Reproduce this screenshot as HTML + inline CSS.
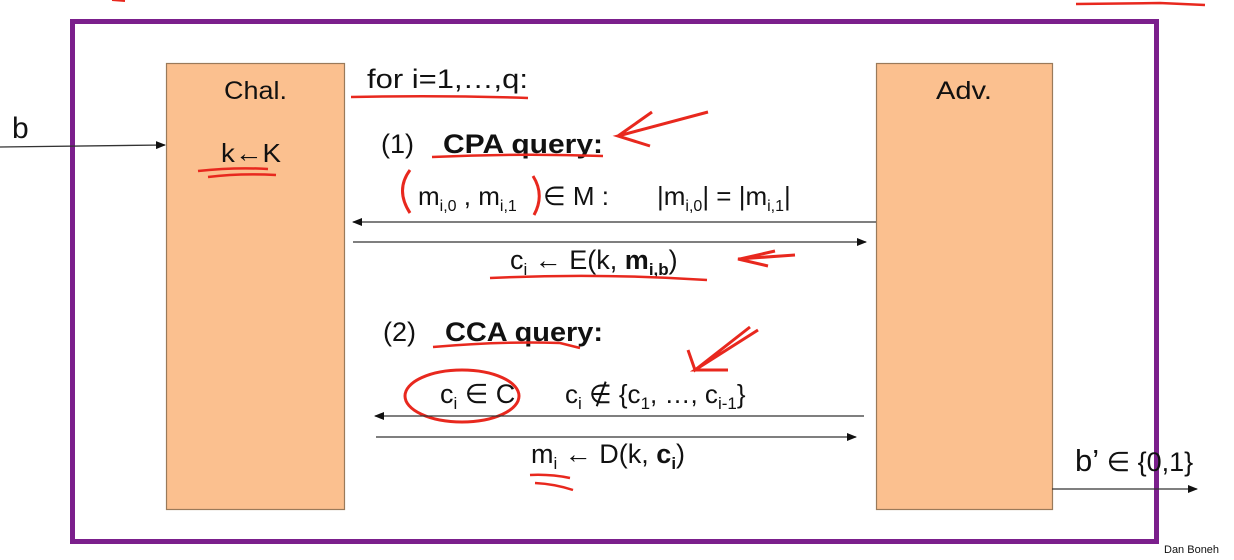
<!DOCTYPE html>
<html><head><meta charset="utf-8"><style>
html,body{margin:0;padding:0;background:#fff;width:1234px;height:560px;overflow:hidden}
svg{display:block}
text{font-family:"Liberation Sans",sans-serif;fill:#111}
</style></head><body>
<svg width="1234" height="560" viewBox="0 0 1234 560" xmlns="http://www.w3.org/2000/svg">
<defs>
<marker id="ah" markerWidth="10" markerHeight="8" refX="9" refY="4" orient="auto" markerUnits="userSpaceOnUse"><path d="M0,0 L10,4 L0,8 Z" fill="#111"/></marker>
</defs>
<rect x="0" y="0" width="1234" height="560" fill="#fff"/>
<path d="M1076,4 L1160,3 L1205,5" stroke="#e8281e" stroke-width="2.5" fill="none"/>
<path d="M112,0 L125,1" stroke="#e8281e" stroke-width="2" fill="none"/>
<rect x="72.5" y="21.5" width="1084" height="520" fill="none" stroke="#7b1f8c" stroke-width="5"/>
<rect x="166.5" y="63.5" width="178" height="446" fill="#fbc08f" stroke="#9a7a5a" stroke-width="1.2"/>
<rect x="876.5" y="63.5" width="176" height="446" fill="#fbc08f" stroke="#9a7a5a" stroke-width="1.2"/>
<text x="224" y="99" font-size="25" textLength="63" lengthAdjust="spacingAndGlyphs">Chal.</text>
<text x="936" y="99" font-size="25" textLength="56" lengthAdjust="spacingAndGlyphs">Adv.</text>
<text x="221" y="162" font-size="26" textLength="60" lengthAdjust="spacingAndGlyphs">k←K</text>
<path d="M198,171 Q235,167 268,169 M208,177 Q240,173 276,175" stroke="#e8281e" stroke-width="2.5" fill="none"/>
<text x="12" y="138" font-size="30">b</text>
<line x1="0" y1="147" x2="165" y2="145" stroke="#333" stroke-width="1.3" marker-end="url(#ah)"/>
<text x="367" y="88" font-size="27" textLength="161" lengthAdjust="spacingAndGlyphs">for i=1,…,q:</text>
<path d="M351,97 Q440,95 528,98" stroke="#e8281e" stroke-width="2.5" fill="none"/>
<text x="381" y="153" font-size="27">(1)</text>
<text x="443" y="153" font-size="27" font-weight="bold" textLength="160" lengthAdjust="spacingAndGlyphs">CPA query:</text>
<path d="M432,157 Q520,153 603,156" stroke="#e8281e" stroke-width="2.5" fill="none"/>
<path d="M708,112 L618,136 L650,146 M652,112 L618,136" stroke="#e8281e" stroke-width="3" fill="none"/>
<path d="M410,170 Q395,190 410,213 M533,176 Q545,195 534,215" stroke="#e8281e" stroke-width="3" fill="none"/>
<text x="418" y="205" font-size="26">m<tspan font-size="16" dy="6">i,0</tspan><tspan dy="-6"> , m</tspan><tspan font-size="16" dy="6">i,1</tspan></text>
<text x="543" y="205" font-size="26">∈ M :</text>
<text x="657" y="205" font-size="26">|m<tspan font-size="16" dy="6">i,0</tspan><tspan dy="-6">| = |m</tspan><tspan font-size="16" dy="6">i,1</tspan><tspan dy="-6">|</tspan></text>
<line x1="876" y1="222" x2="353" y2="222" stroke="#333" stroke-width="1.3" marker-end="url(#ah)"/>
<line x1="353" y1="242" x2="866" y2="242" stroke="#333" stroke-width="1.3" marker-end="url(#ah)"/>
<text x="510" y="269" font-size="27">c<tspan font-size="17" dy="6">i</tspan><tspan dy="-6"> ← E(k, </tspan><tspan font-weight="bold">m</tspan><tspan font-size="17" font-weight="bold" dy="6">i,b</tspan><tspan dy="-6">)</tspan></text>
<path d="M490,278 Q600,273 707,280" stroke="#e8281e" stroke-width="2.5" fill="none"/>
<path d="M795,255 L738,259 L768,266 M740,259 L775,251" stroke="#e8281e" stroke-width="3" fill="none"/>
<text x="383" y="341" font-size="27">(2)</text>
<text x="445" y="341" font-size="27" font-weight="bold" textLength="158" lengthAdjust="spacingAndGlyphs">CCA query:</text>
<path d="M433,347 Q500,341 560,343 L580,348" stroke="#e8281e" stroke-width="2.5" fill="none"/>
<path d="M758,330 L695,370 L728,370 M750,327 L695,370 L688,350" stroke="#e8281e" stroke-width="3" fill="none"/>
<ellipse cx="462" cy="396" rx="57" ry="26" stroke="#e8281e" stroke-width="3" fill="none"/>
<text x="440" y="403" font-size="27">c<tspan font-size="17" dy="6">i</tspan><tspan dy="-6"> ∈ C</tspan></text>
<text x="565" y="403" font-size="26">c<tspan font-size="17" dy="6">i</tspan><tspan dy="-6"> ∉ {c</tspan><tspan font-size="17" dy="6">1</tspan><tspan dy="-6">, …, c</tspan><tspan font-size="17" dy="6">i-1</tspan><tspan dy="-6">}</tspan></text>
<line x1="864" y1="416" x2="375" y2="416" stroke="#333" stroke-width="1.3" marker-end="url(#ah)"/>
<line x1="376" y1="437" x2="856" y2="437" stroke="#333" stroke-width="1.3" marker-end="url(#ah)"/>
<text x="531" y="463" font-size="27">m<tspan font-size="17" dy="6">i</tspan><tspan dy="-6"> ← D(k, </tspan><tspan font-weight="bold">c</tspan><tspan font-size="17" font-weight="bold" dy="6">i</tspan><tspan dy="-6">)</tspan></text>
<path d="M530,475 Q550,474 570,478 M535,483 Q555,484 573,490" stroke="#e8281e" stroke-width="2.5" fill="none"/>
<text x="1075" y="471" font-size="31">b’ <tspan font-size="27">∈ {0,1}</tspan></text>
<line x1="1052" y1="489" x2="1197" y2="489" stroke="#333" stroke-width="1.3" marker-end="url(#ah)"/>
<text x="1164" y="553" font-size="11" fill="#333">Dan Boneh</text>
</svg>
</body></html>
